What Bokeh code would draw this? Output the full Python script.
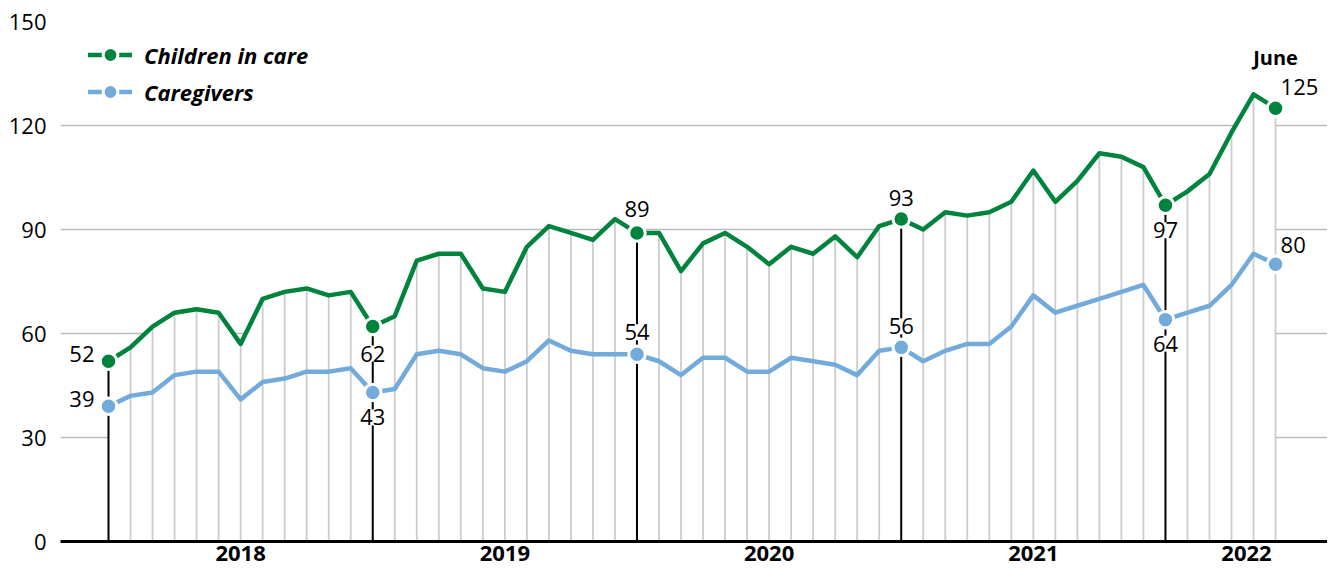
from bokeh.plotting import figure
from bokeh.models import Range1d, FixedTicker, Legend, LegendItem, ColumnDataSource
from bokeh.core.properties import value
from bokeh.embed import file_html
from bokeh.resources import INLINE

# ---- data -------------------------------------------------------------
months = [f"{y}-{m:02d}" for y in range(2018, 2023) for m in range(1, 13)][:54]
children = [52, 56, 62, 66, 67, 66, 57, 70, 72, 73, 71, 72,
            62, 65, 81, 83, 83, 73, 72, 85, 91, 89, 87, 93,
            89, 89, 78, 86, 89, 85, 80, 85, 83, 88, 82, 91,
            93, 90, 95, 94, 95, 98, 107, 98, 104, 112, 111, 108,
            97, 101, 106, 118, 129, 125]
caregivers = [39, 42, 43, 48, 49, 49, 41, 46, 47, 49, 49, 50,
              43, 44, 54, 55, 54, 50, 49, 52, 58, 55, 54, 54,
              54, 52, 48, 53, 53, 49, 49, 53, 52, 51, 48, 55,
              56, 52, 55, 57, 57, 62, 71, 66, 68, 70, 72, 74,
              64, 66, 68, 74, 83, 80]
years = ["2018", "2019", "2020", "2021", "2022"]
y_ticks = [0, 30, 60, 90, 120, 150]
series_names = ["Children in care", "Caregivers"]
last_label = "June"

# ---- styling ----------------------------------------------------------
GREEN = "#00843d"
BLUE = "#72aadb"
GRAY_V = "#cccccc"
GRID = "#b7bbbb"
FONT = "Open Sans"

W, H = 1327, 566
LEFT, TOP, BOTTOM = 60, 21, 25
STEP = 22.02           # px per month
FIRST_PX = 48          # px from frame left to first month
frame_w = W - LEFT
x0 = -FIRST_PX / STEP
x1 = x0 + frame_w / STEP

x = list(range(len(months)))
n = len(months)
hl = [i for i, m in enumerate(months) if m.endswith("-01")]
last = n - 1
norm = [i for i in x if i not in hl]

p = figure(width=W, height=H, output_backend="svg", toolbar_location=None,
           x_range=Range1d(x0, x1), y_range=Range1d(0, 150),
           min_border_left=LEFT, min_border_top=TOP, min_border_right=0,
           min_border_bottom=BOTTOM)
p.outline_line_color = None
p.background_fill_color = "white"
p.xgrid.visible = False
p.ygrid.grid_line_color = GRID
p.ygrid.grid_line_width = 1.5
p.yaxis.ticker = FixedTicker(ticks=y_ticks)
p.yaxis.axis_line_color = None
p.yaxis.major_tick_line_color = None
p.yaxis.minor_tick_line_color = None
p.yaxis.major_tick_out = 0
p.yaxis.major_label_standoff = 14
p.yaxis.major_label_text_font = FONT
p.yaxis.major_label_text_font_size = "22px"
p.yaxis.major_label_text_color = "black"

# year ticks: middle of each full year, last one centered in the remaining span
year_pos = [hl[k] + 6 for k in range(len(years) - 1)] + [(hl[-1] + x1) / 2]
p.xaxis.ticker = FixedTicker(ticks=year_pos)
p.xaxis.major_label_overrides = {pos: yr for pos, yr in zip(year_pos, years)}
p.xaxis.axis_line_color = "black"
p.xaxis.axis_line_width = 3
p.xaxis.major_tick_line_color = None
p.xaxis.minor_tick_line_color = None
p.xaxis.major_tick_out = 0
p.xaxis.major_tick_in = 0
p.xaxis.major_label_standoff = 4
p.xaxis.major_label_text_font = FONT
p.xaxis.major_label_text_font_style = "bold"
p.xaxis.major_label_text_font_size = "22px"
p.xaxis.major_label_text_color = "black"

# white area under the children line hides the grid
p.varea(x=x, y1=[0] * n, y2=children, fill_color="white")

# vertical drop lines
p.segment(x0=[x[i] for i in norm], y0=[0] * len(norm), x1=[x[i] for i in norm],
          y1=[children[i] for i in norm], line_color=GRAY_V, line_width=1.8)
p.segment(x0=[x[i] for i in hl], y0=[0] * len(hl), x1=[x[i] for i in hl],
          y1=[children[i] for i in hl], line_color="black", line_width=2)

# lines
lg = p.line(x, children, line_color=GREEN, line_width=4.5, line_join="round",
            line_cap="round")
lb = p.line(x, caregivers, line_color=BLUE, line_width=4.5, line_join="round",
            line_cap="round")

dots = hl + [last]
dg = p.scatter([x[i] for i in dots], [children[i] for i in dots], size=16.5,
               fill_color=GREEN, line_color="white", line_width=3)
db = p.scatter([x[i] for i in dots], [caregivers[i] for i in dots], size=16.5,
               fill_color=BLUE, line_color="white", line_width=3)

# value labels: (index, series, dx, dy, align)
specs = [(0, 0, -14, -7, "right"), (hl[1], 0, 0, 27, "center"),
         (hl[2], 0, 0, -24, "center"), (hl[3], 0, 0, -21, "center"),
         (hl[4], 0, 0, 25, "center"), (last, 0, 5, -21, "left"),
         (0, 1, -14, -7, "right"), (hl[1], 1, 0, 25, "center"),
         (hl[2], 1, 0, -22, "center"), (hl[3], 1, 0, -21, "center"),
         (hl[4], 1, 0, 24, "center"), (last, 1, 5, -19, "left")]
data = [children, caregivers]
lab = ColumnDataSource(dict(
    x=[x[i] for i, s, dx, dy, a in specs],
    y=[data[s][i] for i, s, dx, dy, a in specs],
    t=[str(data[s][i]) for i, s, dx, dy, a in specs],
    dx=[dx for i, s, dx, dy, a in specs],
    dy=[dy for i, s, dx, dy, a in specs],
    a=[a for i, s, dx, dy, a in specs]))
p.text(x="x", y="y", text="t", x_offset="dx", y_offset="dy", text_align="a",
       text_baseline="middle", text_font=value(FONT), text_font_size="22px",
       text_color="black", background_fill_color="white", source=lab)

p.text(x=[x[last]], y=[children[last]], text=[last_label], x_offset=0, y_offset=-51,
       text_align="center", text_baseline="middle", text_font=value(FONT),
       text_font_size="20px", text_font_style="bold", text_color="black")

legend = Legend(items=[LegendItem(label=series_names[0], renderers=[lg, dg]),
                       LegendItem(label=series_names[1], renderers=[lb, db])],
                location=(28, 431), orientation="vertical")
legend.glyph_width = 44
legend.glyph_height = 37
legend.label_height = 26
legend.spacing = 0
legend.padding = 0
legend.margin = 0
legend.label_standoff = 12
legend.label_text_font = FONT
legend.label_text_font_size = "22px"
legend.label_text_font_style = "bold italic"
legend.label_text_color = "black"
legend.border_line_color = None
legend.background_fill_alpha = 0
p.add_layout(legend, "center")

open("out.html", "w").write(file_html(p, INLINE))
